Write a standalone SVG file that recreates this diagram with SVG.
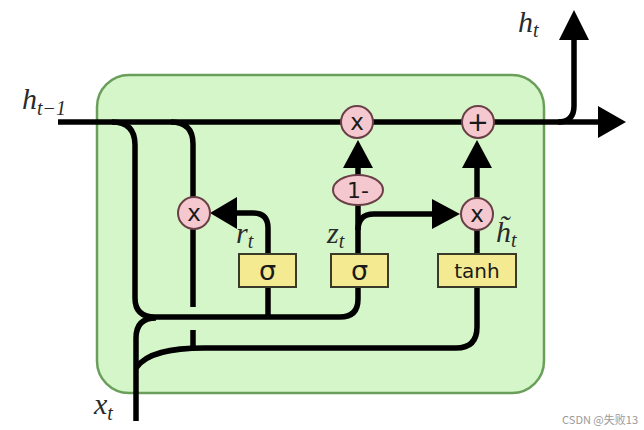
<svg xmlns="http://www.w3.org/2000/svg" width="644" height="430" viewBox="0 0 644 430">
<style>
.ln{fill:none;stroke:#000;stroke-width:5.5;stroke-linecap:butt;stroke-linejoin:round}
.ah{fill:#000}
.op{fill:#f5c8cf;stroke:#6b3f47;stroke-width:2}
.box{fill:#f3ea92;stroke:#3a3a2a;stroke-width:2}
.sans{font-family:"DejaVu Sans","Open Sans",sans-serif;fill:#1a1a1a;text-anchor:middle}
.math{font-family:"Liberation Serif","DejaVu Serif",serif;font-style:italic;fill:#2a2a2a}
</style>
<rect width="644" height="430" fill="#ffffff"/>
<g id="cell">
<rect x="97" y="75" width="447" height="318" rx="32" fill="#d5f6c8" stroke="#6a9f5b" stroke-width="2.5"/>
</g>
<g id="connectors">
<path class="ln" d="M58,122 H600"/>
<polygon class="ah" points="598,106 626,122 598,138"/>
<path class="ln" d="M558,122 Q574,122 574,106 V38"/>
<polygon class="ah" points="559,40 574,10 589,40"/>
<path class="ln" d="M112,122 Q135,122 135,145 V298 Q135,317 155,317 H340 Q358,317 358,299 V202"/>
<path class="ln" d="M136,421 V338 Q136,318 156,318"/>
<path class="ln" d="M136,368 C146,353 170,348 205,348 H456 Q477,348 477,327 V229"/>
<path class="ln" d="M171,122 Q193,122 193,144 V307"/>
<path class="ln" d="M193,330 V348"/>
<path class="ln" d="M268,317 V228 Q268,213 253,213 H236"/>
<polygon class="ah" points="237,197 210,213 237,229"/>
<path class="ln" d="M358,176 V166"/>
<polygon class="ah" points="343,168 358,140 373,168"/>
<path class="ln" d="M358,230 Q358,214 374,214 H434"/>
<polygon class="ah" points="432,199 460,214 432,229"/>
<path class="ln" d="M477,198 V166"/>
<polygon class="ah" points="462,168 477,140 492,168"/>
</g>
<g id="mul_top">
<circle class="op" cx="357" cy="122" r="16"/>
<text class="sans" x="357" y="130" font-size="23">x</text>
</g>
<g id="add_top">
<circle class="op" cx="478" cy="122" r="16"/>
<text class="sans" x="478" y="131" font-size="26">+</text>
</g>
<g id="mul_reset">
<circle class="op" cx="194" cy="213" r="16"/>
<text class="sans" x="194" y="221" font-size="23">x</text>
</g>
<g id="mul_update">
<circle class="op" cx="477" cy="214" r="16"/>
<text class="sans" x="477" y="222" font-size="23">x</text>
</g>
<g id="one_minus">
<ellipse class="op" cx="358" cy="190" rx="25" ry="15"/>
<text class="sans" x="358" y="198" font-size="22">1-</text>
</g>
<g id="sigma_r">
<rect class="box" x="239" y="254" width="57" height="33"/>
<text class="sans" x="267.5" y="280" font-size="27">σ</text>
</g>
<g id="sigma_z">
<rect class="box" x="331" y="254" width="57" height="33"/>
<text class="sans" x="359.5" y="280" font-size="27">σ</text>
</g>
<g id="tanh">
<rect class="box" x="438" y="254" width="78" height="33"/>
<text class="sans" x="477" y="278" font-size="20">tanh</text>
</g>
<g id="labels">
<text class="math" x="22" y="109" font-size="30">h<tspan font-size="20" dy="6">t−1</tspan></text>
<text class="math" x="518" y="32" font-size="30">h<tspan font-size="20" dy="5">t</tspan></text>
<text class="math" x="94" y="414" font-size="30">x<tspan font-size="20" dy="6">t</tspan></text>
<text class="math" x="236" y="243" font-size="30">r<tspan font-size="20" dy="5">t</tspan></text>
<text class="math" x="327" y="243" font-size="30">z<tspan font-size="20" dy="5">t</tspan></text>
<text class="math" x="496" y="242" font-size="30">h&#x303;<tspan font-size="20" dy="5">t</tspan></text>
</g>
<g id="watermark">
<text x="638" y="424" font-family="'Noto Sans CJK SC','DejaVu Sans',sans-serif" font-size="11" fill="#9a9a9a" text-anchor="end">CSDN @失败13</text>
</g>
</svg>
